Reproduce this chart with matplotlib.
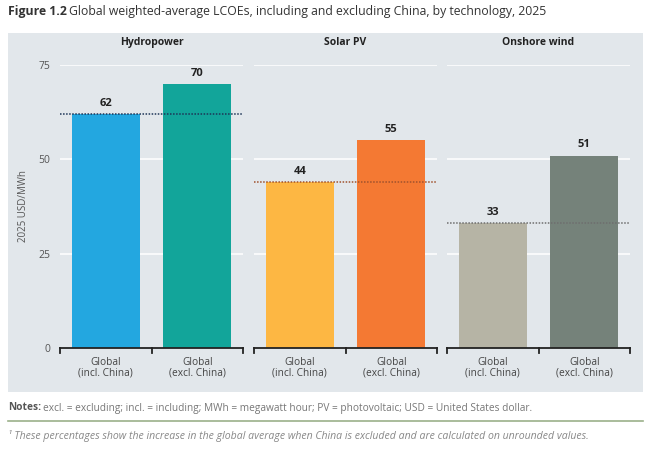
import matplotlib.pyplot as plt
from matplotlib.patches import Rectangle
from matplotlib.lines import Line2D

plt.rcParams["font.family"] = ["Open Sans", "DejaVu Sans"]

# ==========================
# DATA
# ==========================
technologies = ["Hydropower", "Solar PV", "Onshore wind"]
categories = ["Global\n(incl. China)", "Global\n(excl. China)"]
incl_china = [62, 44, 33]
excl_china = [70, 55, 51]
bar_colors = [("#23a7e0", "#12a59a"), ("#fdb743", "#f47933"), ("#b6b4a5", "#75827a")]
ref_colors = ["#1d3557", "#a0522d", "#6e6e6e"]
yticks = [0, 25, 50, 75]

TEXT = "#333333"
GREY = "#555555"
PANEL_BG = "#e2e7eb"

W, H = 652, 449
fig = plt.figure(figsize=(W / 100, H / 100), dpi=100)


def fx(px):
    return px / W


def fy(py):
    return 1 - py / H


# grey panel behind the chart
fig.patches.append(Rectangle((fx(8), fy(392)), fx(643) - fx(8), fy(33) - fy(392),
                             transform=fig.transFigure, facecolor=PANEL_BG,
                             edgecolor="none", zorder=-10))

# ==========================
# PANELS
# ==========================
lefts = [60, 254, 447]
panel_w = 183
for i, tech in enumerate(technologies):
    ax = fig.add_axes([fx(lefts[i]), fy(348), panel_w / W, 283 / H])
    ax.set_facecolor("none")
    ax.set_xlim(-0.5, 1.5)
    ax.set_ylim(0, 75)
    for y in yticks[1:]:
        ax.axhline(y, color="white", lw=1.1, zorder=1)

    vals = [incl_china[i], excl_china[i]]
    ax.bar([0, 1], vals, width=0.74, color=bar_colors[i], zorder=2)
    for x, v in zip([0, 1], vals):
        ax.text(x, v + 1.4, f"{v}", ha="center", va="bottom", fontsize=8,
                fontweight="bold", color="#222222", clip_on=False)

    ax.axhline(incl_china[i], color=ref_colors[i], lw=1.1, ls=(0, (1, 1)), zorder=3)

    # bracket along the baseline
    ax.plot([-0.5, 1.5], [0, 0], color="#222222", lw=1.3, clip_on=False, zorder=4)
    for x in [-0.5, 0.5, 1.5]:
        ax.plot([x, x], [0, -1.2], color="#222222", lw=1.3, clip_on=False, zorder=4)

    for x, c in enumerate(categories):
        ax.text(x, -2.3, c, ha="center", va="top", fontsize=7.3, color="#444444",
                linespacing=1.0)

    ax.text(0.5, 79.5, tech, ha="center", va="bottom", fontsize=7.5,
            fontweight="bold", color="#222222", clip_on=False)

    for s in ax.spines.values():
        s.set_visible(False)
    ax.set_xticks([])
    if i == 0:
        ax.set_yticks(yticks)
        ax.tick_params(axis="y", length=0, pad=7, labelsize=7.5, labelcolor=GREY)
        ax.set_ylabel("2025 USD/MWh", fontsize=7, color=GREY, labelpad=7)
    else:
        ax.set_yticks([])

# ==========================
# TEXT
# ==========================
fig.text(fx(8), fy(12), "Figure 1.2", fontsize=8.8, fontweight="bold",
         color=TEXT, va="center")
fig.text(fx(69), fy(12), "Global weighted-average LCOEs, including and excluding China, by technology, 2025",
         fontsize=8.8, color=TEXT, va="center")

fig.text(fx(8), fy(408), "Notes:", fontsize=7.3, fontweight="bold", color=GREY, va="center")
fig.text(fx(43), fy(408),
         "excl. = excluding; incl. = including; MWh = megawatt hour; PV = photovoltaic; USD = United States dollar.",
         fontsize=7.3, color="#777777", va="center")
fig.add_artist(Line2D([fx(8), fx(643)], [fy(421), fy(421)], color="#9bb08a", lw=1.2,
                      transform=fig.transFigure))
fig.text(fx(8), fy(436),
         "\u00b9 These percentages show the increase in the global average when China is excluded and are calculated on unrounded values.",
         fontsize=7.6, style="italic", color="#888888", va="center")

plt.savefig("out.png", dpi=100)
